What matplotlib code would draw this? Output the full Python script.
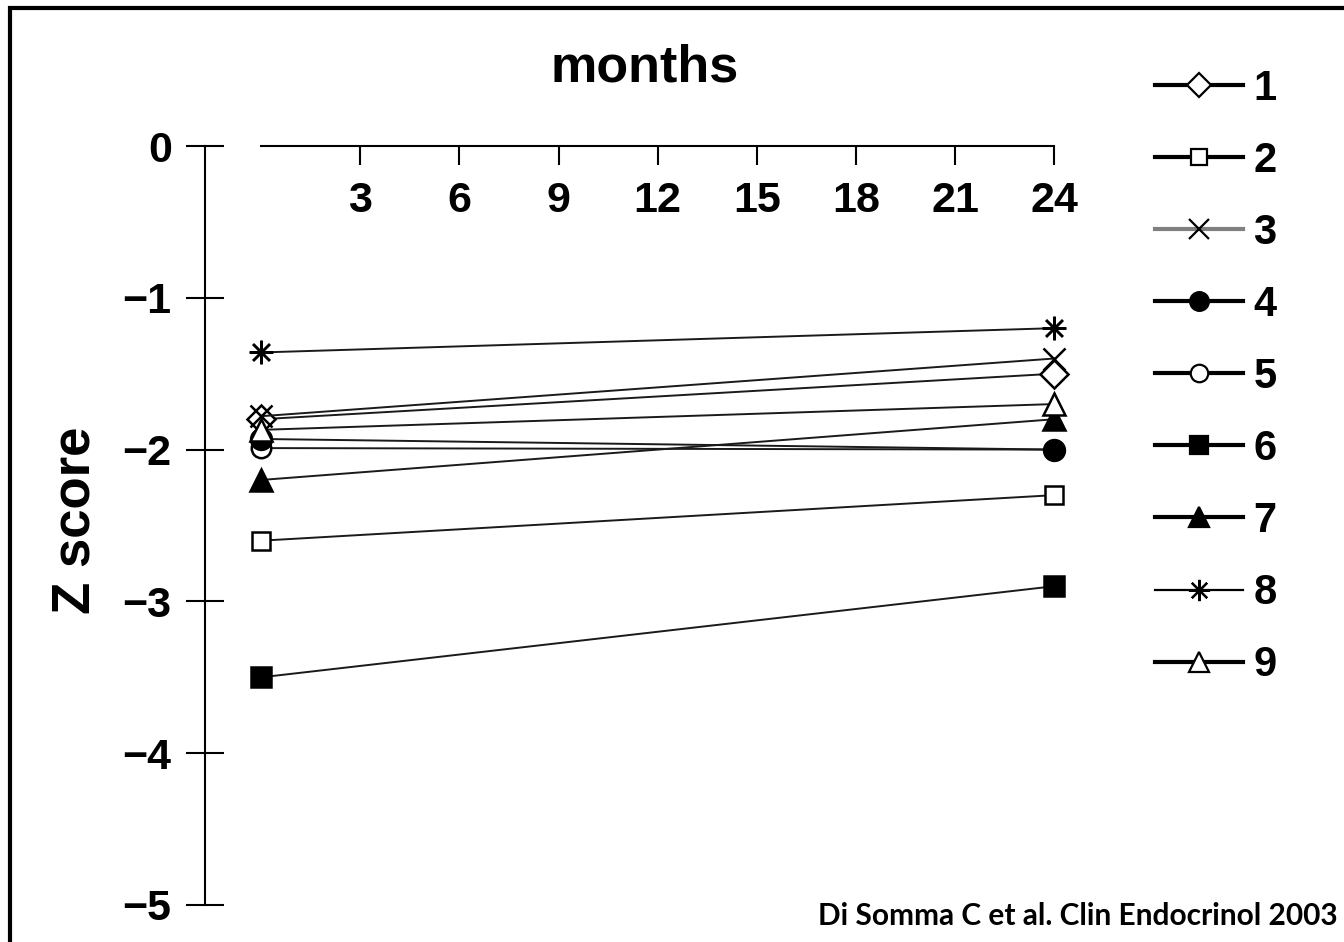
import matplotlib
matplotlib.use("Agg")
import matplotlib.pyplot as plt
from matplotlib.lines import Line2D
from matplotlib.patches import Rectangle

months = [0, 24]
patients = ["1", "2", "3", "4", "5", "6", "7", "8", "9"]
z_start = [-1.80, -2.60, -1.78, -1.93, -1.99, -3.50, -2.20, -1.36, -1.87]
z_end = [-1.50, -2.30, -1.40, -2.00, -2.00, -2.90, -1.80, -1.20, -1.70]
x_ticks = [3, 6, 9, 12, 15, 18, 21, 24]
y_ticks = [0, -1, -2, -3, -4, -5]

# marker, face colour, marker size, drawing order
styles = [
    ("D", "white", 14, 2.8),
    ("s", "white", 13, 3),
    ("x", "black", 16, 3),
    ("o", "black", 15, 3),
    ("o", "white", 14, 2.5),
    ("s", "black", 14, 3),
    ("^", "black", 16, 3),
    ((8, 2, 0), "black", 17, 3),
    ("^", "white", 16, 3),
]

plt.rcParams["font.family"] = ["Liberation Sans", "DejaVu Sans"]
plt.rcParams["font.weight"] = "bold"

fig = plt.figure(figsize=(13.44, 9.42), dpi=100)
ax = fig.add_axes([205 / 1344, 1 - 905 / 942, (1074 - 205) / 1344, (905 - 146) / 942])

handles = []
for i, name in enumerate(patients):
    m, fc, ms, z = styles[i]
    ax.plot(months, [z_start[i], z_end[i]], color="#1a1a1a", lw=1.4,
            marker=m, markersize=ms, markerfacecolor=fc,
            markeredgecolor="black", markeredgewidth=1.8, clip_on=False, zorder=z)
    lc = "#808080" if name == "3" else "black"
    lw = 1.6 if name == "8" else 3
    handles.append(Line2D([], [], color=lc, lw=lw, marker=m,
                          markersize=ms * 0.9, markerfacecolor=fc,
                          markeredgecolor="black", markeredgewidth=1.6))

ax.set_xlim(-1.7, 24.6)
ax.set_ylim(-5, 0)

for s in ["right", "bottom"]:
    ax.spines[s].set_visible(False)
ax.spines["top"].set_bounds(0, 24)
ax.spines["left"].set_bounds(-5, 0)
ax.spines["top"].set_linewidth(1.5)
ax.spines["left"].set_linewidth(1.5)

ax.xaxis.set_ticks_position("top")
ax.set_xticks(x_ticks)
ax.set_xticklabels([str(t) for t in x_ticks])
ax.tick_params(axis="x", direction="in", length=14, width=1.5,
               pad=-54, labelsize=31)

ax.set_yticks(y_ticks)
ax.set_yticklabels([f"\u2212{-t}" if t < 0 else str(t) for t in y_ticks])
ax.tick_params(axis="y", direction="inout", length=28, width=1.5,
               pad=10, labelsize=31)

fig.text(645 / 1344, 1 - 68 / 942, "months", ha="center", va="center",
         fontsize=37.5, fontweight="bold")
fig.text(75 / 1344, 1 - 520 / 942, "Z score", ha="center", va="center",
         rotation=90, fontsize=38, fontweight="bold")

fig.legend(handles, patients, loc="upper left",
           bbox_to_anchor=(1117 / 1344, 1 - 31 / 942), frameon=False,
           handlelength=2.13, handletextpad=0.24, labelspacing=0.77,
           prop={"size": 30, "weight": "bold"})

fig.text(1338 / 1344, 1 - 916 / 942, "Di Somma C et al. Clin Endocrinol 2003",
         ha="right", va="center", fontsize=21.5, fontweight="bold",
         family=["Lato", "DejaVu Sans"])

fig.patches.append(Rectangle((10 / 1344, -0.1), 1.2, 1 - 8 / 942 + 0.1,
                             transform=fig.transFigure, fill=False,
                             lw=3, edgecolor="black"))

fig.savefig("out.png", dpi=100)
